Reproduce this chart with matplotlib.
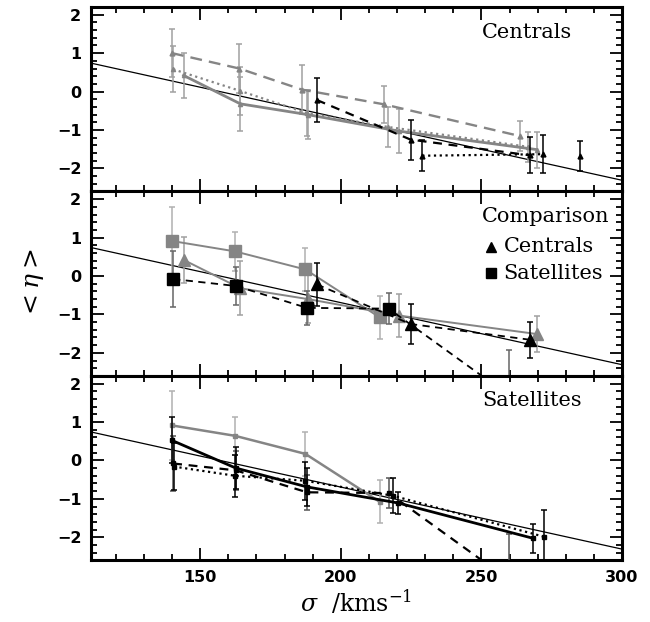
import numpy as np
import matplotlib.pyplot as plt
from matplotlib.ticker import MultipleLocator

plt.rcParams['mathtext.fontset'] = 'dejavuserif'

# relacion ajustada eta = a + b*sigma
fit_a = 2.536
fit_b = -0.01615
fit_x = [111.2, 300.0]

# centrales (panel superior)
cen_dash_x = [140.0, 163.9, 186.2, 215.2, 263.8]
cen_dash_y = [1.00, 0.60, 0.05, -0.33, -1.16]
cen_dash_e = [0.62, 0.65, 0.63, 0.48, 0.39]

cen_dot_x = [140.4, 164.1, 188.0, 216.7, 266.7]
cen_dot_y = [0.58, 0.02, -0.56, -0.92, -1.44]
cen_dot_e = [0.60, 0.63, 0.60, 0.53, 0.40]

cen_all_x = [144.1, 164.3, 188.2, 220.7, 269.6]
cen_all_y = [0.42, -0.32, -0.60, -1.03, -1.51]
cen_all_e = [0.59, 0.70, 0.63, 0.57, 0.47]

cen_blk_x = [191.5, 224.8, 267.3]
cen_blk_y = [-0.22, -1.25, -1.66]
cen_blk_e = [0.57, 0.52, 0.47]

cen_bdot_x = [229.0, 271.9]
cen_bdot_y = [-1.67, -1.63]
cen_bdot_e = [0.41, 0.49]

cen_lone_x = [285.1]
cen_lone_y = [-1.68]
cen_lone_e = [0.39]

# satelites (panel inferior)
sat_all_x = [140.0, 162.4, 187.4, 213.9]
sat_all_y = [0.91, 0.64, 0.17, -1.08]
sat_all_e = [0.89, 0.50, 0.57, 0.56]

sat_blk_x = [140.4, 162.7, 188.0, 217.0, 259.8]
sat_blk_y = [-0.08, -0.26, -0.83, -0.85, -3.11]
sat_blk_e = [0.72, 0.50, 0.45, 0.40, 1.19]

sat_sol_x = [140.0, 162.7, 188.0, 220.5, 268.5]
sat_sol_y = [0.52, -0.20, -0.69, -1.11, -2.03]
sat_sol_e = [0.60, 0.55, 0.50, 0.28, 0.38]

sat_dot_x = [140.6, 162.4, 187.4, 218.6, 272.4]
sat_dot_y = [-0.16, -0.40, -0.53, -0.92, -1.99]
sat_dot_e = [0.60, 0.55, 0.50, 0.45, 0.70]

GRAY = '#858585'
LGRAY = '#a0a0a0'
DASH_G = (0, (5, 3))
DASH_K = (0, (4, 3))
DOT = (0, (1, 1.6))
LBL = dict(family='DejaVu Serif', fontsize=15)


def serie(ax, x, y, e, color, ecolor, ls, lw, marker, ms, z):
    ax.errorbar(x, y, yerr=e, color=color, ecolor=ecolor, ls=ls, lw=lw,
                marker=marker, ms=ms, mec=color, mfc=color, elinewidth=1.1,
                capsize=2.5, capthick=1.1, zorder=z)


def ejes(ax, label):
    ax.set_xlim(111.2, 300)
    ax.set_ylim(-2.6, 2.2)
    ax.plot(fit_x, [fit_a + fit_b * v for v in fit_x], color='black', lw=0.9, zorder=1)
    ax.xaxis.set_major_locator(MultipleLocator(50))
    ax.xaxis.set_minor_locator(MultipleLocator(10))
    ax.yaxis.set_major_locator(MultipleLocator(1))
    ax.yaxis.set_minor_locator(MultipleLocator(0.2))
    ax.tick_params(which='both', direction='in', top=True, right=True, width=1.3)
    ax.tick_params(which='major', length=9, pad=7, labelsize=11.5)
    ax.tick_params(which='minor', length=4.5)
    for s in ax.spines.values():
        s.set_linewidth(2.2)
    for t in ax.get_xticklabels() + ax.get_yticklabels():
        t.set_fontweight('bold')
    ax.text(250.2, 1.55, label, ha='left', va='center', **LBL)


fig = plt.figure(figsize=(6.5, 6.22), dpi=100)
h = 0.2965
ax1 = fig.add_axes([0.14, 0.0992 + 2 * h, 0.817, h])
ax2 = fig.add_axes([0.14, 0.0992 + h, 0.817, h])
ax3 = fig.add_axes([0.14, 0.0992, 0.817, h])

# Centrals
serie(ax1, cen_dash_x, cen_dash_y, cen_dash_e, GRAY, LGRAY, DASH_G, 1.7, '^', 3.5, 3)
serie(ax1, cen_dot_x, cen_dot_y, cen_dot_e, GRAY, LGRAY, DOT, 1.6, '^', 3, 3)
serie(ax1, cen_all_x, cen_all_y, cen_all_e, GRAY, LGRAY, '-', 2.0, '^', 3, 3)
serie(ax1, cen_blk_x, cen_blk_y, cen_blk_e, 'black', 'black', DASH_K, 1.6, '^', 3.5, 4)
serie(ax1, cen_bdot_x, cen_bdot_y, cen_bdot_e, 'black', 'black', DOT, 1.6, '^', 3.5, 4)
serie(ax1, cen_lone_x, cen_lone_y, cen_lone_e, 'black', 'black', 'none', 1.0, '^', 3.5, 4)
ejes(ax1, 'Centrals')

# Comparison
serie(ax2, sat_all_x, sat_all_y, sat_all_e, GRAY, '#b0b0b0', '-', 1.4, 's', 9, 3)
serie(ax2, cen_all_x, cen_all_y, cen_all_e, GRAY, LGRAY, '-', 1.4, '^', 9, 3)
serie(ax2, sat_blk_x, sat_blk_y, sat_blk_e, 'black', '#666666', DASH_K, 1.3, 's', 9, 4)
serie(ax2, cen_blk_x, cen_blk_y, cen_blk_e, 'black', 'black', DASH_K, 1.3, '^', 9, 4)
ejes(ax2, 'Comparison')
ax2.plot([0.753], [0.70], transform=ax2.transAxes, marker='^', ms=7, color='black', ls='none')
ax2.text(0.777, 0.70, 'Centrals', transform=ax2.transAxes, va='center', **LBL)
ax2.plot([0.753], [0.557], transform=ax2.transAxes, marker='s', ms=6.5, color='black', ls='none')
ax2.text(0.777, 0.557, 'Satellites', transform=ax2.transAxes, va='center', **LBL)

# Satellites
serie(ax3, sat_all_x, sat_all_y, sat_all_e, GRAY, '#b0b0b0', '-', 1.8, 's', 3, 3)
serie(ax3, sat_blk_x, sat_blk_y, sat_blk_e, 'black', '#555555', DASH_K, 1.6, 's', 3, 4)
serie(ax3, sat_sol_x, sat_sol_y, sat_sol_e, 'black', 'black', '-', 2.0, 's', 3, 4)
serie(ax3, sat_dot_x, sat_dot_y, sat_dot_e, 'black', 'black', DOT, 1.6, 's', 3, 4)
ejes(ax3, 'Satellites')

ax1.tick_params(labelbottom=False)
ax2.tick_params(labelbottom=False)
ax3.set_xlabel(r'$\sigma\ \ /\mathrm{kms}^{-1}$', fontsize=17, labelpad=2)
ax2.set_ylabel(r'$<\eta>$', fontsize=18, labelpad=8)

fig.savefig('out.png', dpi=100)
